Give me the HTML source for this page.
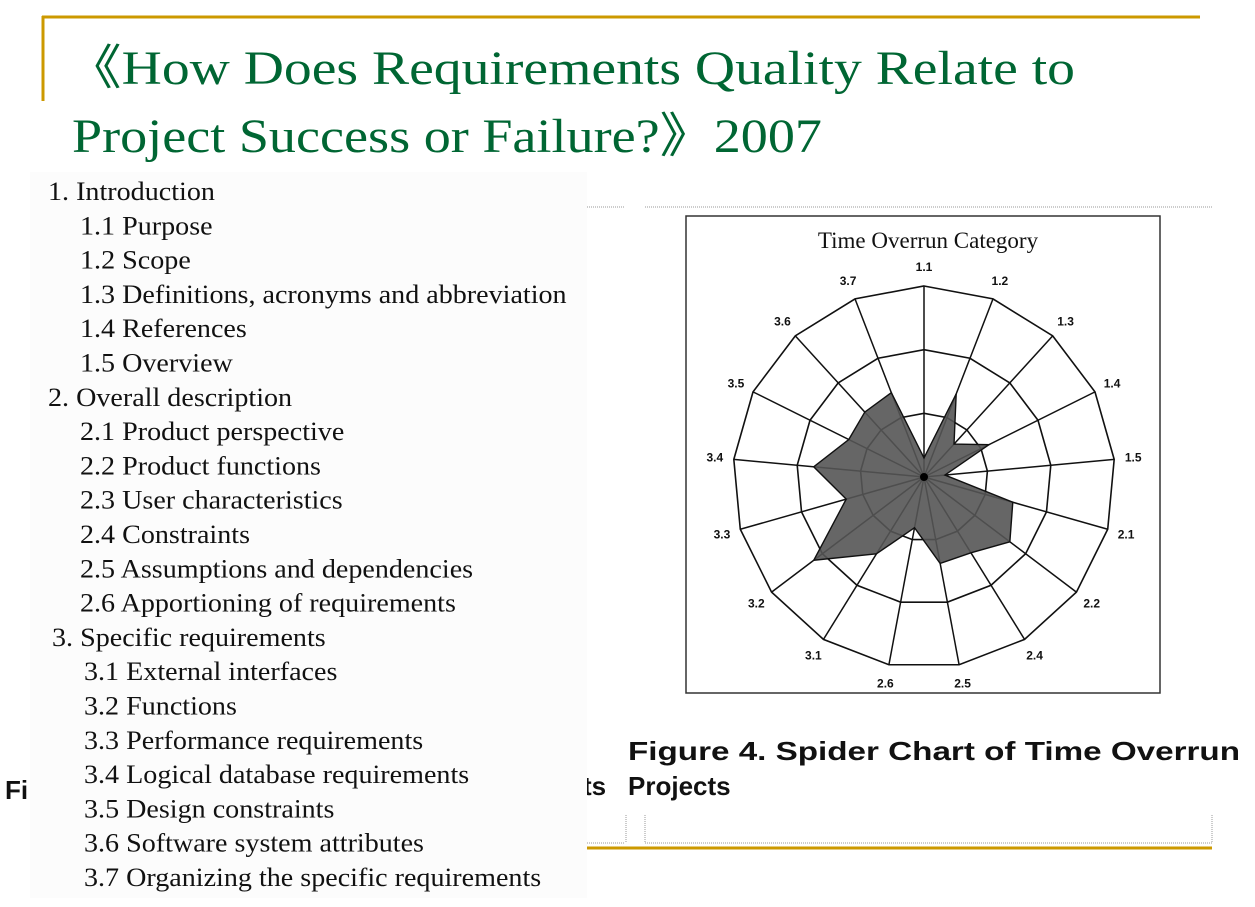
<!DOCTYPE html>
<html><head><meta charset="utf-8"><style>
html,body{margin:0;padding:0;background:#fff;}
svg{display:block;}
</style></head><body>
<svg width="1255" height="907" viewBox="0 0 1255 907" xmlns="http://www.w3.org/2000/svg">
<rect x="0" y="0" width="1255" height="907" fill="#fff"/>
<line x1="42" y1="17" x2="1200" y2="17" stroke="#cc9900" stroke-width="3"/>
<line x1="43" y1="16" x2="43" y2="101" stroke="#cc9900" stroke-width="3"/>
<g font-family="Liberation Serif, serif" fill="#006633" font-size="48">
<text x="66" y="84" textLength="1009" lengthAdjust="spacingAndGlyphs">《How Does Requirements Quality Relate to</text>
<text x="72" y="152" textLength="750" lengthAdjust="spacingAndGlyphs">Project Success or Failure?》2007</text>
</g>
<line x1="587" y1="207" x2="625" y2="207" stroke="#999" stroke-dasharray="1,1"/>
<line x1="645" y1="207" x2="1212" y2="207" stroke="#999" stroke-dasharray="1,1"/>
<line x1="587" y1="843" x2="625" y2="843" stroke="#999" stroke-dasharray="1,1"/>
<line x1="645" y1="843" x2="1212" y2="843" stroke="#999" stroke-dasharray="1,1"/>
<line x1="626" y1="815" x2="626" y2="843" stroke="#999" stroke-dasharray="1,1"/>
<line x1="645" y1="815" x2="645" y2="843" stroke="#999" stroke-dasharray="1,1"/>
<line x1="1212" y1="815" x2="1212" y2="843" stroke="#999" stroke-dasharray="1,1"/>
<line x1="587" y1="848" x2="1212" y2="848" stroke="#cc9900" stroke-width="3"/>
<g font-family="Liberation Sans, sans-serif" font-weight="bold" font-size="26" fill="#111">
<text x="5" y="799">Fi</text>
<text x="583" y="795">ts</text>
<text x="628" y="760" textLength="612" lengthAdjust="spacingAndGlyphs">Figure 4. Spider Chart of Time Overrun</text>
<text x="628" y="795">Projects</text>
</g>
<rect x="30" y="172" width="557" height="726" fill="#fcfcfc"/>
<g font-family="Liberation Serif, serif" font-size="26" fill="#111" id="toc"></g>
<rect x="686" y="216" width="474" height="477" fill="#fff" stroke="#333" stroke-width="1.5"/>
<text x="928" y="248" text-anchor="middle" font-family="Liberation Serif, serif" font-size="23" fill="#111">Time Overrun Category</text>
<g id="chart"></g>
</svg>
<script>
const tocItems = ["1. Introduction","1.1 Purpose","1.2 Scope","1.3 Definitions, acronyms and abbreviation","1.4 References","1.5 Overview","2. Overall description","2.1 Product perspective","2.2 Product functions","2.3 User characteristics","2.4 Constraints","2.5 Assumptions and dependencies","2.6 Apportioning of requirements","3. Specific requirements","3.1 External interfaces","3.2 Functions","3.3 Performance requirements","3.4 Logical database requirements","3.5 Design constraints","3.6 Software system attributes","3.7 Organizing the specific requirements"];
const categories = ["1.1","1.2","1.3","1.4","1.5","2.1","2.2","2.4","2.5","2.6","3.1","3.2","3.3","3.4","3.5","3.6","3.7"];
const values = [0.3,1.4,0.7,1.14,0.33,1.45,1.69,1.4,1.38,0.81,1.42,2.17,1.27,1.74,1.32,1.38,1.42];
const ringLevels = [1,2,3];
const NS="http://www.w3.org/2000/svg";
function mk(tag,attrs,parent){const e=document.createElementNS(NS,tag);for(const k in attrs)e.setAttribute(k,attrs[k]);parent.appendChild(e);return e;}
const toc=document.getElementById('toc');
tocItems.forEach((t,i)=>{
  const top=/^\d\. /.test(t);
  const sec3=t.startsWith('3');
  const x= top ? (sec3?52:48) : (sec3?84:80);
  const el=mk('text',{x:x,y:200+i*34.3},toc);
  
  
  el.textContent=t;
  const w=el.getComputedTextLength();
  el.setAttribute('textLength',(w*1.08).toFixed(1));
  el.setAttribute('lengthAdjust','spacingAndGlyphs');
});
const cx=924, cy=477, R=191, maxV=3, n=categories.length;
function ang(i){return -Math.PI/2 + i*2*Math.PI/n;}
function px(i,v){const r=v/maxV*R;return [cx+r*Math.cos(ang(i)), cy+r*Math.sin(ang(i))];}
const g=document.getElementById('chart');
ringLevels.forEach(l=>{
  const pts=categories.map((c,i)=>px(i,l).join(',')).join(' ');
  const p=mk('polygon',{points:pts,fill:'none',stroke:'#111','stroke-width':1.6},g);
  
  
});
categories.forEach((c,i)=>{
  const [x,y]=px(i,maxV);
  const l=mk('line',{x1:cx,y1:cy,x2:x,y2:y,stroke:'#111','stroke-width':1.5},g);
  
  
});
const dpts=values.map((v,i)=>px(i,v).join(',')).join(' ');
const poly=mk('polygon',{points:dpts,fill:'#555',stroke:'#111','stroke-width':1.4,'fill-opacity':0.9},g);


categories.forEach((c,i)=>{
  const [x,y]=px(i,maxV*1.1);
  const t=mk('text',{x:x,y:y+4,'text-anchor':'middle','font-family':'Liberation Sans, sans-serif','font-weight':'bold','font-size':12,fill:'#111'},g);
  
  
  t.textContent=c;
});
const dot=mk('circle',{cx:cx,cy:cy,r:4,fill:'#000'},g);


</script>
</body></html>
